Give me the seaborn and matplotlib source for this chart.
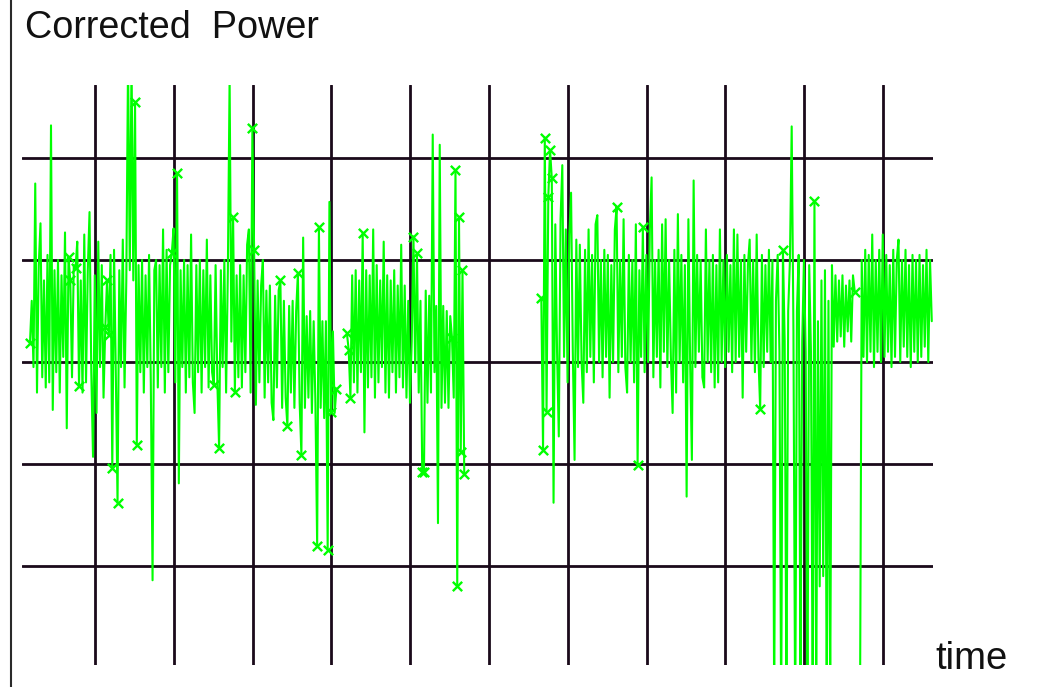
import numpy as np
import pandas as pd
import matplotlib
matplotlib.use("Agg")
import matplotlib.pyplot as plt
import seaborn as sns
from matplotlib.lines import Line2D

sns.set_theme(style="white")
plt.rcParams['font.family'] = ['Liberation Sans', 'DejaVu Sans']

# Corrected power, first recording block (grid units, 0 = centre line)
power_first = [
    0.19, 0.60, -0.05, 1.75, -0.30, 0.95, 1.36, -0.15, 0.80, -0.25, 1.05, -0.20,
    2.32, -0.47, 0.90, -0.10, 1.00, -0.30, 0.85, 0.05, 1.27, -0.65, 1.03, 0.80,
    -0.15, 0.95, 0.92, 1.18, -0.24, 0.80, -0.30, 1.25, -0.20, 0.90, 1.47, -0.10,
    -0.93, 0.85, -0.50, 1.18, -0.05, 0.95, -0.35, 0.34, 0.80, 0.26, 1.05, -1.04,
    1.10, -0.10, -1.38, 0.90, -0.05, 1.20, -0.25, 0.80, 2.95, 0.90, 2.95, 0.80,
    2.55, -0.81, 0.95, -0.10, 1.00, -0.30, 0.85, -0.05, 1.05, -0.20, -2.14, 0.90,
    1.00, -0.25, 0.95, -0.05, 1.30, -0.30, 1.10, -0.10, 0.95, 1.07, 1.31, -0.20,
    1.85, -1.19, 0.90, -0.05, 1.00, -0.30, 0.95, -0.15, 1.25, -0.20, -0.50, 0.95,
    -0.10, 1.00, -0.30, 0.90, -0.05, 1.20, -0.25, 0.85, -0.10, -0.23, 0.95, -0.20,
    -0.84, 0.90, -0.05, 1.00, -0.30, 0.90, 2.78, 0.20, 1.42, -0.29, 0.85, -0.15,
    0.95, -0.25, 0.85, -0.10, 1.15, 1.30, -0.30, 2.29, 1.10, -0.42, 0.80, -0.20,
    0.75, 1.00, -0.35, 0.70, -0.20, 0.75, -0.40, -0.57, 0.65, -0.25, 0.70, 0.80,
    -0.45, 0.60, -0.35, -0.63, 0.55, -0.30, 0.60, -0.45, 0.50, 0.87, -0.40, -0.91,
    1.22, -0.45, 0.45, -0.35, 0.50, -0.50, 0.40, -0.40, -1.80, 1.32, -0.45, 0.40,
    -0.55, 0.40, -1.84, 1.57, -0.49, 0.30, -0.50, -0.26, np.nan, np.nan, np.nan, np.nan,
    np.nan, 0.28, 0.12, -0.35, 0.85, -0.20, 0.90, -0.30, 0.80, -0.10, 1.26, -0.69,
    0.90, -0.25, 0.85, -0.15, 1.30, -0.35, 0.95, -0.20, 0.80, -0.05, 1.18, -0.30,
    0.85, -0.35, 0.80, -0.10, 0.90, -0.30, 0.75, -0.15, 1.15, -0.25, 0.75, -0.35,
    0.60, -0.40, 0.20, 1.23, -0.10, 1.07, -0.30, 0.60, -1.08, -1.08, 0.70, -0.40,
    0.65, -0.30, 2.23, -0.10, 0.55, -1.58, 2.13, -0.45, 0.55, -0.40, 0.50, -0.45,
    0.45, 0.24, -0.35, 1.88, -2.20, 1.42, -0.88, 0.90, -1.10,
]

# samples missing between the two blocks
gap_samples = 43

# Corrected power, second recording block
power_second = [
    0.63, -0.86, 2.20, -0.49, 1.62, 2.08, 1.80, -1.38, 1.35, 0.10, -0.73, 1.40,
    1.93, 0.05, 1.30, -0.20, 1.25, 1.66, 0.10, -0.96, 1.20, -0.05, 1.15, 0.00,
    -0.40, 1.10, -0.10, 1.30, 0.05, 1.05, -0.20, 1.35, 1.44, 0.00, 1.00, -0.15,
    1.10, 0.05, 1.05, -0.35, 0.95, 0.00, 1.30, 1.52, -0.10, 1.00, 0.05, 1.40,
    -0.05, -0.30, 1.05, 0.00, 1.00, -0.20, 1.35, -1.01, 0.90, 0.05, 1.32, -0.10,
    1.05, 0.00, 1.30, 1.81, -0.15, 1.00, 0.05, 1.10, -0.25, 1.35, 0.10, 1.40,
    -0.05, 1.00, 0.05, -0.50, 1.10, -0.30, 1.45, 0.00, 1.05, -0.20, 0.95, -1.32,
    1.40, 0.00, -0.96, 1.78, -0.05, 1.05, 0.10, 1.00, -0.15, -0.25, 1.30, 0.00,
    1.00, -0.10, 1.05, -0.25, 0.95, -0.20, 1.30, 0.00, 1.00, -0.05, 1.05, 0.10,
    0.95, -0.10, 1.30, 0.00, 1.25, 0.05, 1.00, -0.35, 1.05, 0.10, 0.95, 1.20,
    0.00, 1.00, -0.10, 1.25, 0.05, -0.46, 1.05, -0.05, 0.95, 0.10, 1.10, 0.00,
    1.00, -3.40, 0.60, 1.05, 0.10, -3.50, 1.10, 0.20, -3.30, 0.50, 1.00, 2.31,
    0.30, -3.60, 0.50, 1.05, -3.20, 0.20, 1.00, 0.10, -3.50, 0.95, 0.10, -3.40,
    1.58, -3.30, 0.40, -2.20, 0.80, -2.10, 0.90, -3.40, 0.60, -3.30, 0.95, 0.15,
    0.85, 0.20, 0.80, 0.25, 0.85, 0.15, 0.75, 0.30, 0.80, 0.20, 0.85, 0.69,
    np.nan, np.nan, -3.50, 1.00, 0.05, 1.10, 0.00, 1.05, 0.10, 1.25, -0.05, 1.00,
    0.10, 1.10, 0.00, 1.25, 0.05, 1.05, 0.10, 0.95, -0.05, 1.10, 0.05, 1.00,
    1.20, 0.00, 1.00, 0.15, 1.10, 0.05, 0.95, -0.05, 1.05, 0.10, 1.00, 0.00,
    1.05, 0.05, 0.95, 0.15, 1.10, 0.00, 1.00, 0.40,
]

# sample numbers flagged by the correction step (drawn as crosses)
flagged = [
    0, 22, 23, 26, 28, 43, 44, 45, 47, 50, 60, 61, 81, 84, 105, 108, 114,
    116, 117, 127, 128, 143, 147, 153, 155, 164, 165, 170, 172, 175, 181,
    182, 183, 190, 219, 221, 224, 225, 241, 243, 244, 245, 246, 247, 248,
    292, 293, 294, 295, 296, 297, 298, 335, 347, 350, 417, 430, 448, 471,
]

t_start = 0.175          # time of first sample, in grid divisions
samples_per_div = 45     # sampling rate per time division
grid_time = list(range(1, 12))
grid_power = [-2, -1, 0, 1, 2]

power = np.array(power_first + [np.nan] * gap_samples + power_second, dtype=float)
time = t_start + np.arange(len(power)) / samples_per_div
valid = ~np.isnan(power)
run = np.cumsum(~valid)  # a new run starts after every missing sample
df = pd.DataFrame({"time": time, "power": power, "run": run})[valid]
marks = df.loc[flagged]

W, H = 1049, 687
fig = plt.figure(figsize=(W / 100, H / 100), dpi=100)
ax = fig.add_axes([22 / W, 1 - 665 / H, (933 - 22) / W, (665 - 85) / H])

grid_color = "#1a0a1a"
ax.set_xticks(grid_time)
ax.set_yticks(grid_power)
ax.grid(True, color=grid_color, lw=2.0)
ax.set_axisbelow(True)
ax.tick_params(length=0, labelbottom=False, labelleft=False)
for s in ax.spines.values():
    s.set_visible(False)

sns.lineplot(data=df, x="time", y="power", units="run", estimator=None,
             sort=False, color="#00ff00", lw=1.5, ax=ax, legend=False)
sns.scatterplot(data=marks, x="time", y="power", marker="x", color="#00ff00",
                s=45, linewidth=1.7, ax=ax, legend=False, zorder=3)

ax.set_xlim(0.0736, 11.635)
ax.set_ylim(-2.971, 2.716)
ax.set_xlabel("")
ax.set_ylabel("")

fig.add_artist(Line2D([10.5 / W, 10.5 / W], [0, 1], transform=fig.transFigure,
                      color="#2a2a2a", lw=1.5))
fig.text(25 / W, 1 - 38 / H, "Corrected  Power", fontsize=27.2,
         ha="left", va="baseline", color="#111111")
fig.text(935 / W, 1 - 669 / H, "time", fontsize=27.5,
         ha="left", va="baseline", color="#111111")

fig.savefig("out.png", dpi=100)
